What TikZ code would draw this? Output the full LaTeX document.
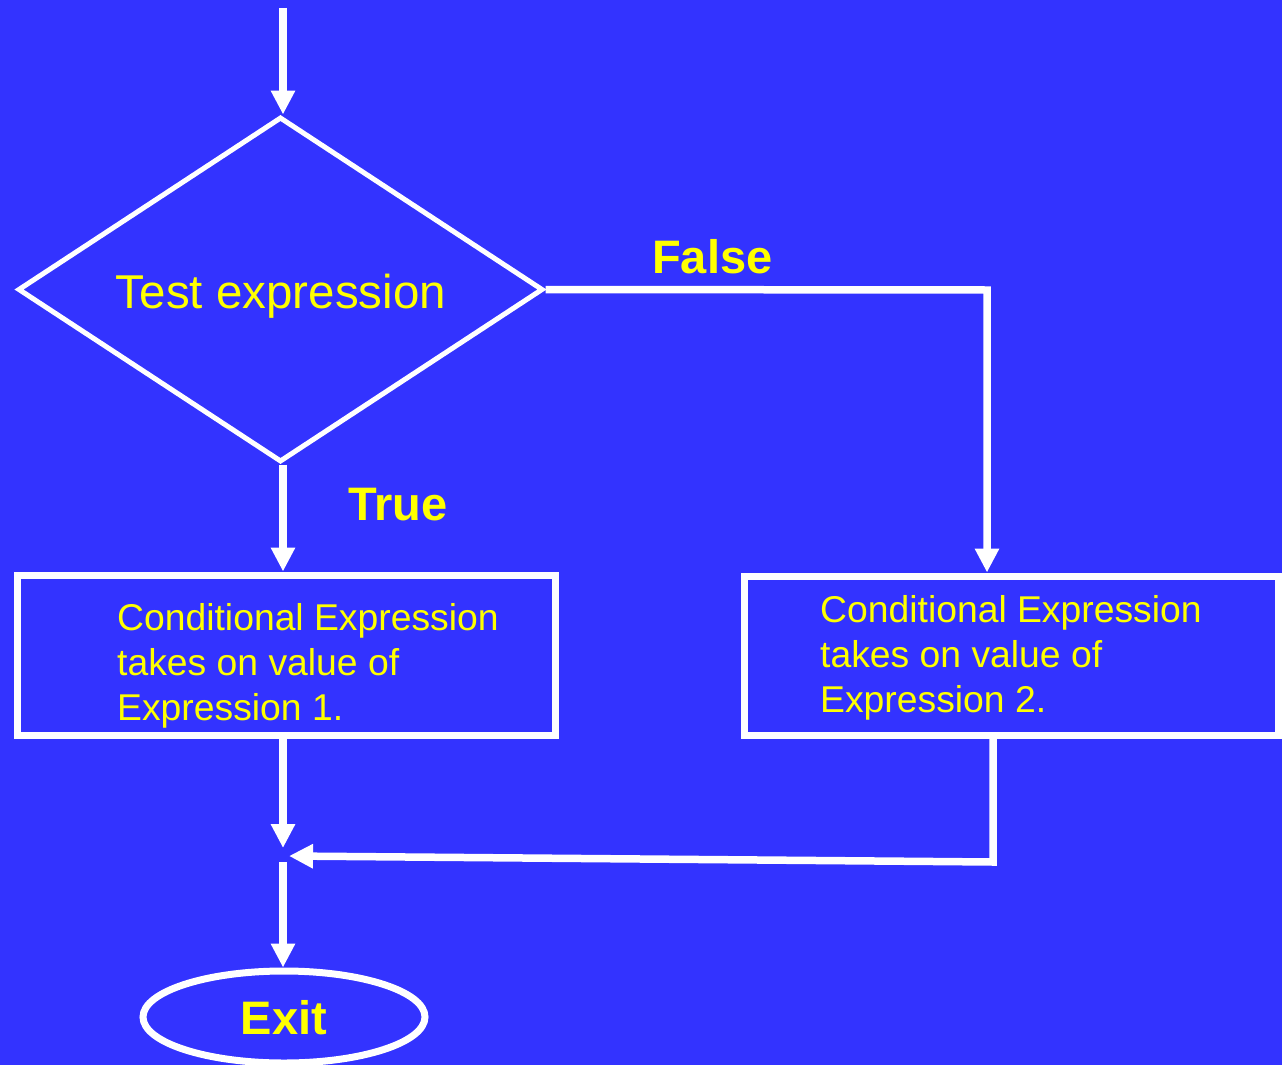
\documentclass[tikz,border=0pt]{standalone}
\usepackage{fontspec}
\setmainfont{Liberation Sans}
\usetikzlibrary{shapes.geometric,arrows.meta}
\definecolor{bg}{RGB}{51,51,255}
\definecolor{yel}{RGB}{255,255,0}
\begin{document}
\begin{tikzpicture}[x=1pt,y=-1pt,
  conn/.style={draw=white,line width=7.5pt,line join=miter,-{Triangle[length=24pt,width=23pt]}},
  box/.style={draw=white,line width=7pt,rectangle,inner sep=0pt},
  btext/.style={text=yel,font=\fontsize{37.3}{45}\selectfont,align=left,inner sep=0pt},
  lbl/.style={text=yel,font=\bfseries\fontsize{47}{50}\selectfont,inner sep=0pt}]
\fill[bg] (0,0) rectangle (1282,1065);
\useasboundingbox (0,0) rectangle (1282,1065);
\node[diamond,draw=white,line width=5pt,minimum width=525pt,minimum height=345pt,inner sep=0pt] (d) at (280.5,289.5) {};
\node[text=yel,font=\fontsize{47.5}{50}\selectfont,inner sep=0pt,anchor=base] (dt) at (281,308) {Test expression};
\node[box,minimum width=538pt,minimum height=160pt] (b1) at (286,655) {};
\node[box,minimum width=534pt,minimum height=159pt] (b2) at (1011,655.5) {};
\node[btext,anchor=north west] (t1) at (117,603.5) {Conditional Expression\\takes on value of\\Expression 1.};
\node[btext,anchor=north west] (t2) at (820,595.5) {Conditional Expression\\takes on value of\\Expression 2.};
\node[lbl,anchor=base west] (f) at (652,273) {False};
\node[lbl,anchor=base west] (t) at (348,520) {True};
\node[ellipse,draw=white,line width=7pt,minimum width=282pt,minimum height=92pt,inner sep=0pt,
  text=yel,font=\bfseries\fontsize{47}{50}\selectfont,text depth=0pt] (ex) at (284,1017) {Exit};
\coordinate (st) at (283,8);
\draw[conn] (st) -- (st |- d.north);
\draw[conn] (st |- d.south) -- (st |- b1.north);
\coordinate (fc) at (987,290);
\draw[conn] (d.east) -- (fc) -- (fc |- b2.north);
\coordinate (j) at (283,856);
\draw[conn] (j |- b1.south) -- ([yshift=8pt]j);
\coordinate (r) at (993,862);
\draw[conn] (r |- b2.south) -- (r) -- ([xshift=6pt]j);
\draw[conn] ([yshift=-6pt]j) -- (j |- ex.north);
\end{tikzpicture}
\end{document}
